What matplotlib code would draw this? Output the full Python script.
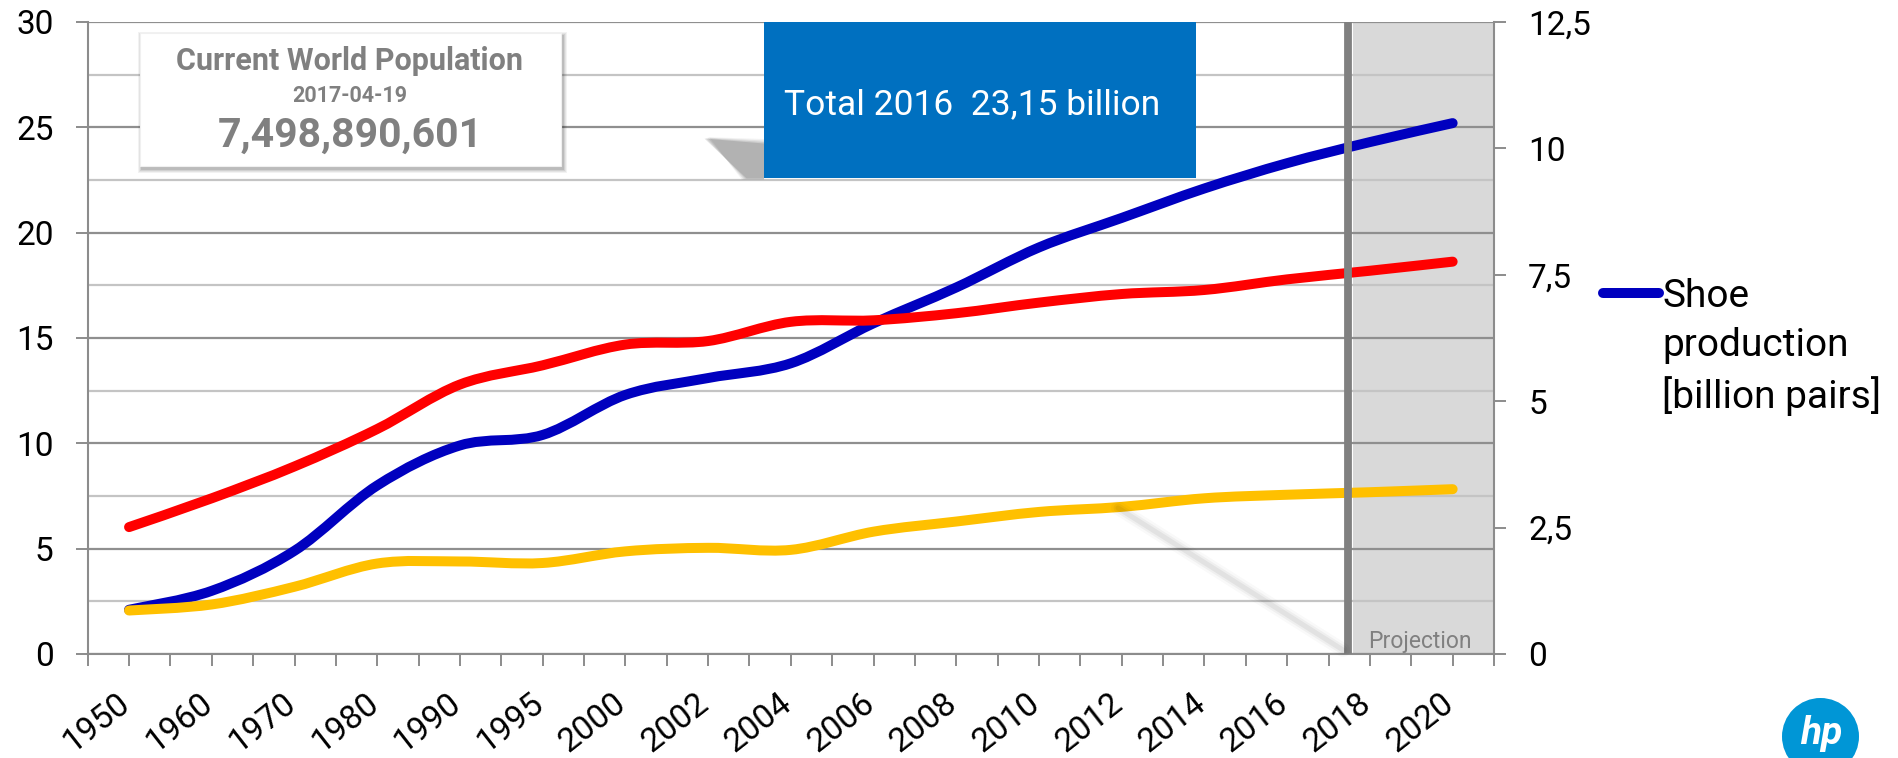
import matplotlib
matplotlib.use('Agg')
import matplotlib.pyplot as plt
import matplotlib.transforms as mtransforms
from matplotlib.path import Path
from matplotlib.patches import PathPatch, Rectangle, Circle, Polygon
from matplotlib.lines import Line2D
import numpy as np

# ---------------- data ----------------
years = ['1950', '1960', '1970', '1980', '1990', '1995', '2000', '2002', '2004',
         '2006', '2008', '2010', '2012', '2014', '2016', '2018', '2020']
# left axis [billion pairs]
shoe_production = [2.1, 3.0, 4.9, 8.0, 9.9, 10.4, 12.3, 13.1, 13.8,
                   15.7, 17.4, 19.3, 20.7, 22.1, 23.3, 24.3, 25.2]
# right axis
world_population = [2.51, 3.08, 3.71, 4.45, 5.33, 5.71, 6.12, 6.19, 6.57,
                    6.60, 6.74, 6.95, 7.12, 7.20, 7.41, 7.58, 7.76]
pairs_per_capita = [0.86, 0.98, 1.33, 1.79, 1.83, 1.80, 2.03, 2.10, 2.06,
                    2.42, 2.62, 2.81, 2.91, 3.08, 3.15, 3.20, 3.26]

left_ticks = [0, 5, 10, 15, 20, 25, 30]
right_ticks = [0, 2.5, 5, 7.5, 10, 12.5]
right_tick_labels = ['0', '2,5', '5', '7,5', '10', '12,5']
legend_lines = ['Shoe', 'production', '[billion pairs]']
projection_pos = 14.74          # category-index position of the projection divider
box_title = 'Current World Population'
box_date = '2017-04-19'
box_value = '7,498,890,601'
total_text = 'Total 2016  23,15 billion'
projection_text = 'Projection'

BLUE = '#0000BF'
RED = '#FF0000'
YELLOW = '#FFC000'
GRID_MAJOR = '#8F8F8F'
GRID_MINOR = '#C4C4C4'
AXIS_GRAY = '#8C8C8C'
TICK_FS = 24

plt.rcParams['font.family'] = ['Roboto', 'DejaVu Sans']

W, H = 1899, 758
fig = plt.figure(figsize=(W / 100, H / 100), dpi=100, facecolor='white')


def fx(x):
    return x / W


def fy(y):
    return 1 - y / H


ax = fig.add_axes([fx(87.7), fy(654), (1494 - 87.7) / W, (654 - 22) / H])
ax2 = ax.twinx()

n = len(years)
xs = np.arange(n)
ax.set_xlim(-0.5, n - 0.5)
ax.set_ylim(0, 30)
ax2.set_ylim(0, 12.5)


def smooth_path(x, y):
    pts = np.column_stack([x, y]).astype(float)
    m = len(pts)
    verts = [pts[0]]
    codes = [Path.MOVETO]
    for i in range(m - 1):
        p0 = pts[i - 1] if i > 0 else pts[i]
        p1 = pts[i]
        p2 = pts[i + 1]
        p3 = pts[i + 2] if i + 2 < m else pts[i + 1]
        verts += [p1 + (p2 - p0) / 6.0, p2 - (p3 - p1) / 6.0, p2]
        codes += [Path.CURVE4] * 3
    return Path(verts, codes)


LW = 7.2
ax.add_patch(PathPatch(smooth_path(xs, shoe_production), fill=False, edgecolor=BLUE,
                       lw=LW, capstyle='round', joinstyle='round', zorder=3))
ax2.add_patch(PathPatch(smooth_path(xs, world_population), fill=False, edgecolor=RED,
                        lw=LW, capstyle='round', joinstyle='round', zorder=3))
ax2.add_patch(PathPatch(smooth_path(xs, pairs_per_capita), fill=False, edgecolor=YELLOW,
                        lw=LW, capstyle='round', joinstyle='round', zorder=3))

# projection area
ax.axvspan(projection_pos + 0.05, n - 0.5, color='#D9D9D9', zorder=0.2, lw=0)
ax2.axvline(projection_pos, color='#808080', lw=5.6, zorder=6)

# grid
ax.set_axisbelow(True)
ax.set_yticks(left_ticks)
ax.set_yticks(np.arange(2.5, 30, 5), minor=True)
ax.yaxis.grid(True, which='major', color=GRID_MAJOR, lw=1.6)
ax.yaxis.grid(True, which='minor', color=GRID_MINOR, lw=1.6)
ax.tick_params(axis='y', which='minor', length=0)
ax.tick_params(axis='y', which='major', length=8.6, width=1.4, color=AXIS_GRAY,
               labelsize=TICK_FS, pad=16.0, direction='out')

ax.set_xticks(xs)
ax.set_xticklabels(years, rotation=38, ha='right', va='top')
ax.set_xticks(np.arange(-0.5, n, 1.0), minor=True)
ax.tick_params(axis='x', which='both', length=8.6, width=1.4, color=AXIS_GRAY,
               direction='out')
ax.tick_params(axis='x', which='major', labelsize=TICK_FS, pad=15.0)
offset = mtransforms.ScaledTranslation(7 / 100, 0, fig.dpi_scale_trans)
for lab in ax.get_xticklabels():
    lab.set_transform(lab.get_transform() + offset)

ax2.set_yticks(right_ticks)
ax2.set_yticklabels(right_tick_labels)
ax2.tick_params(axis='y', length=8.6, width=1.4, color=AXIS_GRAY, labelsize=TICK_FS,
                pad=16.0, direction='out')

for a in (ax, ax2):
    a.spines['top'].set_visible(False)
ax.spines['right'].set_visible(False)
ax.spines['left'].set_color(AXIS_GRAY)
ax.spines['bottom'].set_color(AXIS_GRAY)
ax.spines['left'].set_linewidth(1.5)
ax.spines['bottom'].set_linewidth(1.5)
ax2.spines['left'].set_visible(False)
ax2.spines['bottom'].set_visible(False)
ax2.spines['right'].set_color(AXIS_GRAY)
ax2.spines['right'].set_linewidth(1.5)

# legend (only shoe production shown)
handles = [Line2D([], [], color=BLUE, lw=LW, solid_capstyle='round'),
           Line2D([], [], color='none', lw=0),
           Line2D([], [], color='none', lw=0)]
leg = ax2.legend(handles, legend_lines, loc='upper left',
                 bbox_to_anchor=(fx(1603), fy(278)), bbox_transform=fig.transFigure,
                 frameon=False, fontsize=28, handlelength=1.45, handletextpad=0.08,
                 labelspacing=0.31, borderpad=0, borderaxespad=0)

# --- decorations ---
# world population box with shadow
for k, a in enumerate([0.05, 0.06, 0.08, 0.1]):
    grow = 4 - k
    fig.patches.append(Rectangle((fx(140 - grow + 2), fy(170 + grow - 1)),
                                 (421 + 2 * grow) / W, (133 + 2 * grow) / H,
                                 transform=fig.transFigure, facecolor='black',
                                 alpha=a, lw=0, zorder=4))
fig.patches.append(Rectangle((fx(140), fy(166)), 421 / W, 133 / H, transform=fig.transFigure,
                             facecolor='white', edgecolor='#F0F0F0', lw=0.8, zorder=5))
fig.text(fx(350), fy(61), box_title, ha='center', va='center', fontsize=22,
         fontweight='bold', color='#808080', zorder=6)
fig.text(fx(350), fy(96), box_date, ha='center', va='center', fontsize=15.5,
         fontweight='bold', color='#808080', zorder=6)
fig.text(fx(350), fy(136), box_value, ha='center', va='center', fontsize=29.5,
         fontweight='bold', color='#808080', zorder=6)

# blue total box with diffuse shadow
for k, a in enumerate([0.05, 0.07, 0.09, 0.12]):
    s = 6 - 1.5 * k
    poly = [(fx(703 + s), fy(139 - s * 0.3)), (fx(764), fy(145 - s)),
            (fx(764), fy(178 + s * 0.3)), (fx(748 - s), fy(178 + s * 0.3))]
    fig.patches.append(Polygon(poly, closed=True, transform=fig.transFigure,
                               facecolor='black', alpha=a, lw=0, zorder=4))
fig.patches.append(Rectangle((fx(764), fy(178)), (1196 - 764) / W, (178 - 22) / H,
                             transform=fig.transFigure, facecolor='#0070C0', lw=0, zorder=5))
fig.text(fx(784), fy(114), total_text, ha='left', va='baseline', fontsize=25.5,
         color='white', zorder=6)

# faint diagonal shadow streak
for w, a in [(14, 0.025), (9, 0.04), (5, 0.05)]:
    fig.lines.append(Line2D([fx(1118), fx(1343)], [fy(508), fy(650)], transform=fig.transFigure,
                            color='black', alpha=a, lw=w * 0.72, solid_capstyle='round',
                            zorder=1.5))

# projection label
fig.text(fx(1368), fy(648), projection_text, ha='left', va='baseline', fontsize=16.5,
         color='#808080', zorder=7)

# hp logo
fig.patches.append(Circle((1820.5 / 100, (H - 736.5) / 100), 38.5 / 100,
                          transform=fig.dpi_scale_trans, facecolor='#0096D6', lw=0, zorder=5))
fig.text(fx(1821), fy(733), 'hp', ha='center', va='center', fontsize=28,
         fontweight='bold', fontstyle='italic', color='white', zorder=6)

fig.savefig('out.png', dpi=100, facecolor='white')
